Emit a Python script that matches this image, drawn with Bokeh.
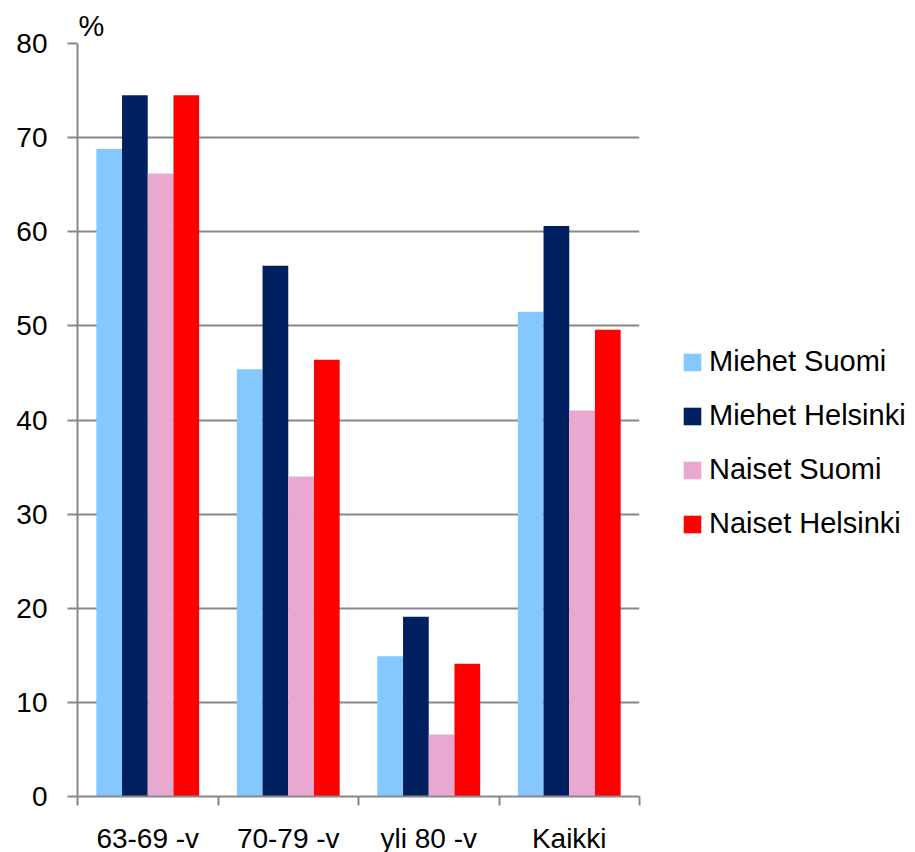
from bokeh.plotting import figure
from bokeh.models import (FixedTicker, Legend, LegendItem, ColumnDataSource, Range1d)
from bokeh.embed import file_html
from bokeh.resources import INLINE

categories = ["63-69 -v", "70-79 -v", "yli 80 -v", "Kaikki"]
series_names = ["Miehet Suomi", "Miehet Helsinki", "Naiset Suomi", "Naiset Helsinki"]
miehet_suomi = [68.8, 45.4, 14.9, 51.5]
miehet_helsinki = [74.5, 56.4, 19.1, 60.6]
naiset_suomi = [66.2, 34.0, 6.6, 41.0]
naiset_helsinki = [74.5, 46.4, 14.1, 49.6]
colors = ["#85C8FF", "#002060", "#E8A8D0", "#FF0000"]
y_ticks = [0, 10, 20, 30, 40, 50, 60, 70, 80]

FONT = "Liberation Sans"

p = figure(frame_width=562, frame_height=753, output_backend="svg", toolbar_location=None,
           x_range=Range1d(0, 4), y_range=Range1d(0, 80),
           min_border_left=77, min_border_top=43, min_border_bottom=10, min_border_right=0,
           title="%")
p.outline_line_color = None
p.background_fill_color = "white"
p.title.text_font = FONT
p.title.text_font_size = "29px"
p.title.text_font_style = "normal"
p.title.text_color = "black"
p.title.align = "left"
p.title.offset = 1
p.title.standoff = 4

bar_w = 0.183
offsets = [-1.5 * bar_w, -0.5 * bar_w, 0.5 * bar_w, 1.5 * bar_w]
series = [miehet_suomi, miehet_helsinki, naiset_suomi, naiset_helsinki]
items = []
for name, vals, col, off in zip(series_names, series, colors, offsets):
    xs = [i + 0.5 + off for i in range(len(categories))]
    src = ColumnDataSource(dict(x=xs, top=vals))
    r = p.vbar(x="x", top="top", bottom=0, width=bar_w, source=src, fill_color=col, line_color=None)
    items.append(LegendItem(label=name, renderers=[r]))

# grid
p.xgrid.grid_line_color = None
p.ygrid.ticker = FixedTicker(ticks=y_ticks)
p.ygrid.grid_line_color = "#888888"
p.ygrid.grid_line_width = 2
p.ygrid.level = "underlay"

# y axis
p.yaxis.ticker = FixedTicker(ticks=y_ticks)
p.yaxis.axis_line_color = "#888888"
p.yaxis.axis_line_width = 2
p.yaxis.major_tick_line_color = "#888888"
p.yaxis.major_tick_line_width = 2
p.yaxis.major_tick_out = 10
p.yaxis.major_tick_in = 0
p.yaxis.minor_tick_line_color = None
p.yaxis.major_label_text_font = FONT
p.yaxis.major_label_text_font_size = "28px"
p.yaxis.major_label_text_color = "black"
p.yaxis.major_label_standoff = 20

# x axis
p.xaxis.ticker = FixedTicker(ticks=[0.5, 1.5, 2.5, 3.5], minor_ticks=[0, 1, 2, 3, 4])
p.xaxis.major_label_overrides = {0.5: categories[0], 1.5: categories[1], 2.5: categories[2], 3.5: categories[3]}
p.xaxis.axis_line_color = "#888888"
p.xaxis.axis_line_width = 2
p.xaxis.major_tick_line_color = None
p.xaxis.minor_tick_line_color = "#888888"
p.xaxis.minor_tick_line_width = 2
p.xaxis.minor_tick_out = 9
p.xaxis.minor_tick_in = 0
p.xaxis.major_label_text_font = FONT
p.xaxis.major_label_text_font_size = "28px"
p.xaxis.major_label_text_color = "black"
p.xaxis.major_label_standoff = 17

legend = Legend(items=items, location=(42, 256), orientation="vertical",
                glyph_width=22, glyph_height=22, label_height=30, spacing=21,
                label_standoff=6, padding=0, margin=0,
                border_line_color=None, background_fill_alpha=0,
                label_text_font=FONT, label_text_font_size="29px", label_text_color="black")
p.add_layout(legend, "right")

open("out.html", "w").write(file_html(p, INLINE))
